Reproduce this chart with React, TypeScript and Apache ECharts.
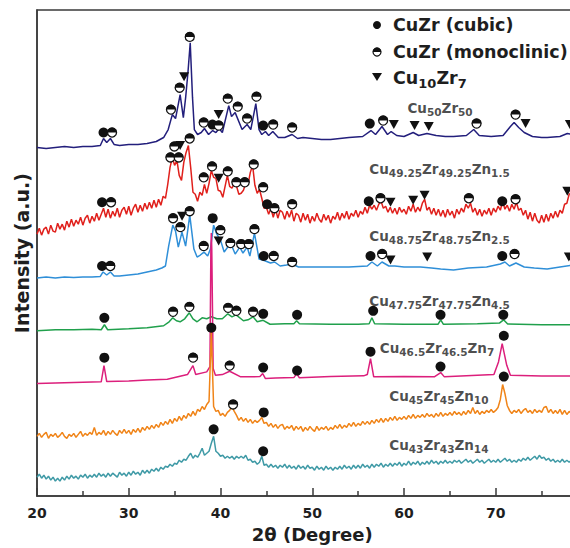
import React, { useEffect, useRef } from 'react';
import * as echarts from 'echarts';

// ---------- axes ----------
const X_MIN = 20;
const X_MAX = 80;
const X_INTERVAL = 10;
const Y_MIN = 0;
const Y_MAX = 488;
const X_NAME = '2θ (Degree)';
const Y_NAME = 'Intensity (a.u.)';

// ---------- patterns read as [2θ, intensity] ----------
const NAVY_PTS = [[20,350],[21,349],[22,350],[23,351],[24,350],[25,351],[26,351],[26.9,352],[27.25,359],[27.6,355],[28.0,359],[28.4,353],[29,352],[30,353],[31,353],[32,354],[33,356],[33.8,360],[34.3,368],[34.75,383],[35.1,379],[35.6,403],[35.95,380],[36.2,400],[36.45,425],[36.7,455],[36.95,400],[37.15,368],[37.5,363],[37.9,365],[38.25,369],[38.7,363],[39.15,367],[39.5,365],[39.85,369],[40.2,365],[40.9,392],[41.2,381],[41.6,385],[42.35,368],[42.9,373],[43.3,368],[43.85,394],[44.2,368],[44.5,363],[44.9,366],[45.25,362],[45.7,366],[46.3,360],[47.0,360],[47.8,363],[48.4,359],[49,360],[50,359],[51,358],[52,358],[53,359],[54,360],[55.5,361],[56.4,367],[56.9,363],[57.6,371],[58.2,363],[58.6,366],[59.2,362],[60,361],[61,365],[61.6,362],[62.5,364],[63.5,362],[64.5,361],[65.4,361],[66.8,362],[67.6,368],[68.2,362],[69.5,361],[70.8,362],[71.6,371],[72.0,375],[72.5,370],[73.1,365],[74,361],[75,360],[75.6,360],[77,361],[77.8,364],[78.5,363]];

const BLUE_PTS = [[20,219],[21,220],[22,219],[23,220],[24,219.5],[25,220],[26,220],[26.9,220.5],[27.2,225],[27.6,222],[28.0,225],[28.4,221],[29,221],[30,222],[31,223],[32,225],[33,227],[33.6,229],[34,231],[34.35,251],[34.8,272],[35.1,266],[35.4,250],[35.8,265],[36.2,251],[36.65,282],[37.1,248],[37.45,240],[37.8,242],[38.2,245],[38.6,241],[38.9,248],[39.25,272],[39.6,263],[40.0,257],[40.4,245],[41.1,254],[41.6,243],[42.1,250],[42.45,244],[42.9,250],[43.2,241],[43.7,264],[44.2,238],[44.6,237],[44.9,236],[45.45,234],[45.9,235],[46.5,231],[47.2,232],[47.8,233],[48.5,230],[50,230],[52,230],[54,230],[55,230.5],[56,231],[56.5,235],[57.1,231],[57.6,235],[58.35,231],[59,231],[60,230],[61.8,230],[63,229],[64,228],[65.4,227],[67,229],[69,230],[70.5,233],[71.0,235],[71.5,231],[72.2,234],[73.1,230],[74.2,229],[75.6,228],[77,230],[78.5,232]];

const GREEN_PTS = [[20,166],[22,167],[24,167],[26,167.5],[27.0,167],[27.35,172],[27.7,167],[30,168],[32,169],[33.8,171],[34.4,175],[34.8,179],[35.2,176],[35.6,175],[36.1,178],[36.6,184],[37.0,178],[37.45,175],[38.0,179],[38.5,178],[39.0,180],[39.6,178],[40.2,178],[40.8,183],[41.25,180],[41.7,182],[42.5,176],[43.0,177],[43.55,180],[44.0,175],[44.65,176.5],[45.4,172.5],[47,173],[48.0,173],[48.3,176],[48.6,173],[52,172.5],[55,172.5],[56.2,173],[56.5,179],[56.8,173],[60,172.5],[63.7,172.5],[64.0,177],[64.3,172.5],[68,173],[70.4,173.7],[70.85,177],[71.3,172.7],[75,172],[78.5,172]];

const PINK_PTS = [[20,113],[22,113.5],[24,114],[26,114.5],[27.0,114.7],[27.3,131],[27.6,115],[30,115.5],[32,116.5],[34.2,117.3],[36.4,122],[37.0,131],[37.3,122],[38.5,124.7],[38.85,130],[38.95,248],[39.0,264],[39.05,248],[39.2,128],[39.45,121.3],[40.2,122],[41.0,125.3],[42.2,119.7],[43.6,119.7],[44.3,120],[44.6,123],[44.9,118],[46,118.5],[48.0,119],[48.3,123],[48.6,118.7],[52,120],[55.6,120.7],[56.0,122],[56.35,138],[56.7,119.7],[60,120],[63.3,119.7],[64.0,124],[64.4,119.7],[69.8,122],[70.3,134.7],[70.7,153],[71.2,131.3],[71.6,121.3],[75,120.5],[78.5,120.7]];

// noisy patterns: intensities every 0.25° starting at 20°, one row per degree
const STEP_START = 20;
const STEP = 0.25;

const RED_ROWS = [
  [263,269,262,268],[270,263,272,266],[265,274,268,273],[267,276,270,278],[271,277,273,280],
  [272,279,282,274],[281,276,284,277],[283,289,280,288],[279,286,281,289],[280,287,290,283],
  [291,282,289,293],[285,292,286,294],[288,295,289,297],[290,298,292,301],[299,313,330,340],
  [332,337,322,317],[335,345,352,330],[305,303,296,305],[302,313,304,314],[327,320,319,307],
  [306,300,311,322],[311,309,314,311],[303,304,307,314],[313,325,332,312],[304,308,299,289],
  [290,283,289,280],[288,279,287,285],[278,286,280,287],[276,284,282,275],[284,277,283,274],
  [281,276,284,278],[275,283,277,282],[274,281,278,285],[277,284,279,286],[278,284,281,287],
  [280,286,283,290],[284,292,288,292],[287,293,296,289],[291,285,290,284],[289,283,290,285],
  [288,283,291,286],[293,285,290,286],[294,298,287,290],[283,289,282,288],[281,287,280,288],
  [282,286,279,288],[283,289,285,293],[289,294,285,289],[282,288,281,287],[283,289,282,289],
  [285,291,287,296],[288,292,286,293],[288,295,287,289],[282,287,278,285],[276,284,277,274],
  [282,275,283,276],[284,279,286,280],[287,284,293,294],[303,304,306]
];

const ORANGE_ROWS = [
  [60,63,59,62],[64,58,62,60],[63,59,61,64],[60,58,62,60],[63,59,62,65],
  [60,63,61,64],[62,69,61,64],[62,66,61,65],[62,66,63,61],[66,63,67,63],
  [66,62,67,64],[68,64,69,66],[70,67,71,68],[72,69,74,71],[75,72,77,73],
  [78,75,80,76],[81,78,83,80],[85,81,87,85],[90,87,92,95],[165,90,85,86],
  [81,83,80,84],[86,90,85,81],[76,79,75,78],[74,77,73,76],[74,76,79,73],
  [74,70,73,69],[72,68,71,72],[67,70,68,71],[66,70,67,70],[65,69,66,70],
  [67,65,70,66],[69,67,70,66],[69,67,71,68],[72,68,71,69],[73,70,74,70],
  [73,71,75,72],[75,72,76,73],[77,74,78,74],[78,75,79,76],[80,76,79,77],
  [80,77,81,78],[82,78,81,79],[82,79,83,80],[82,79,83,80],[84,80,83,81],
  [84,81,85,82],[84,81,85,82],[86,83,89,83],[86,82,85,83],[86,84,87,84],
  [86,89,97,112],[103,91,86,83],[86,84,87,83],[86,88,84,86],[83,87,84,86],
  [84,89,90,84],[87,83,86,83],[87,82,86,82],[85,83,86]
];

const TEAL_ROWS = [
  [19,22,18,21],[17,20,16,19],[15,18,15,19],[16,20,17,21],[18,20,17,21],
  [19,22,18,21],[19,22,19,23],[20,22,19,23],[20,23,21,19],[24,21,23,20],
  [24,21,25,22],[24,21,26,23],[26,23,27,25],[28,25,29,27],[30,29,32,30],
  [33,32,36,34],[37,36,40,43],[38,41,39,43],[48,41,43,45],[53,60,45,43],
  [40,41,38,40],[38,40,37,40],[38,40,38,41],[36,37,34,35],[32,34,40,31],
  [32,29,32,29],[31,28,31,29],[32,28,31,28],[30,27,31,28],[30,27,31,28],
  [29,26,30,27],[29,26,30,27],[29,26,29,27],[30,27,31,28],[30,27,31,28],
  [31,28,32,29],[31,28,32,29],[32,30,33,29],[32,30,33,30],[33,31,34,30],
  [33,31,35,31],[34,32,35,31],[34,32,35,32],[36,33,35,32],[35,33,36,33],
  [35,33,36,34],[36,33,35,37],[34,36,33,35],[37,34,36,33],[35,37,34,36],
  [34,37,34,36],[38,35,37,34],[36,34,37,35],[38,36,39,36],[38,40,37,41],
  [38,39,36,38],[35,37,34,36],[34,37,34,36],[34,36,35]
];

// ---------- phase markers [2θ, intensity] ----------
const CUBIC_PTS = [
  [27.25,365],[39.12,373],[44.65,372],[56.27,374],
  [27.09,295],[45.08,293],[56.16,296],[70.71,296],
  [27.09,231],[39.15,279],[44.71,241],[56.35,241],[70.71,241],
  [27.34,179],[44.65,183],[48.35,182],[56.64,186],[63.98,182],[70.82,182],
  [27.34,139],[44.65,129],[48.35,126],[56.35,145],[63.98,130],[70.88,161],
  [39.0,169],[44.71,84],[70.88,120],
  [39.25,67],[44.65,45]
];

const MONO_PTS = [
  [28.18,365],[34.6,388],[35.55,410],[36.65,461],[38.17,375],[39.8,372],[40.79,399],[41.88,391],[42.9,379],[43.92,401],[45.74,373],[47.81,370],[57.73,377],[67.91,374],[72.16,383],
  [28.07,295],[34.54,340],[35.44,340],[34.97,351],[36.64,359],[38.17,320],[39.08,331],[40.79,326],[41.73,315],[42.64,315],[43.62,333],[44.65,310],[45.88,289],[47.81,293],[57.44,299],[67.07,299],[72.16,298],
  [27.99,231],[34.83,279],[35.63,270],[36.64,286],[38.17,251],[39.99,267],[41.08,254],[42.25,253],[43.08,253],[43.7,268],[45.8,241],[47.81,235],[57.62,243],[72.05,243],
  [34.83,185],[36.61,190],[40.83,189],[41.73,186],[43.55,185],
  [37.01,139],[41.0,131],
  [41.37,92]
];

const CU10ZR7_PTS = [
  [36.03,421],[39.8,383],[58.89,373],[61.15,372],[62.7,371],[73.25,374],[78.08,373],
  [35.6,352],[39.8,319],[58.53,295],[61.0,297],[62.24,302],[77.8,306],
  [35.81,281],[39.8,256],[58.53,237],[62.53,240],[77.97,240]
];

// ---------- sample names (rich text) and their anchors [2θ, intensity] ----------
const SAMPLE_NAMES = [
  '{b|Cu}{s|50}{b|Zr}{s|50}',
  '{b|Cu}{s|49.25}{b|Zr}{s|49.25}{b|Zn}{s|1.5}',
  '{b|Cu}{s|48.75}{b|Zr}{s|48.75}{b|Zn}{s|2.5}',
  '{b|Cu}{s|47.75}{b|Zr}{s|47.75}{b|Zn}{s|4.5}',
  '{b|Cu}{s|46.5}{b|Zr}{s|46.5}{b|Zn}{s|7}',
  '{b|Cu}{s|45}{b|Zr}{s|45}{b|Zn}{s|10}',
  '{b|Cu}{s|43}{b|Zr}{s|43}{b|Zn}{s|14}'
];
const SAMPLE_NAME_POS = [[63.93,390],[63.87,328],[63.87,261],[63.87,196],[63.6,149],[63.8,100],[63.8,51]];

const LEGEND_TEXTS = ['CuZr (cubic)', 'CuZr (monoclinic)', '{b|Cu}{s|10}{b|Zr}{s|7}'];

// ---------- styling ----------
const FONT = 'DejaVu Sans';
const AXIS_COLOR = '#3a3a3a';
const TEXT_COLOR = '#1e1e1e';
const MARK_COLOR = '#111111';
const COLORS = ['#231f7c', '#e0201c', '#2f8fd8', '#20a04c', '#dc1f7c', '#f08418', '#3f9aa6'];

const fromRows = (rows: number[][]) =>
  rows.flat().map((v, i) => [STEP_START + i * STEP, v]);

const lineSeries = (data: number[][], color: string) => ({
  type: 'line',
  data,
  symbol: 'none',
  showSymbol: false,
  smooth: false,
  silent: true,
  lineStyle: { color, width: 1.5 },
  z: 2,
});

export default function App() {
  const ref = useRef<HTMLDivElement>(null);

  useEffect(() => {
    if (!ref.current) return;
    const chart = echarts.init(ref.current, null, { renderer: 'svg' });

    const labelRich = {
      b: { fontFamily: FONT, fontWeight: 'bold', fontSize: 13.5, color: TEXT_COLOR, lineHeight: 14, verticalAlign: 'top' },
      s: { fontFamily: FONT, fontWeight: 'bold', fontSize: 10.5, color: TEXT_COLOR, lineHeight: 22, verticalAlign: 'middle' },
    };
    const legendRich = {
      b: { fontFamily: FONT, fontWeight: 'bold', fontSize: 17.5, fill: TEXT_COLOR, lineHeight: 18, verticalAlign: 'top' },
      s: { fontFamily: FONT, fontWeight: 'bold', fontSize: 13, fill: TEXT_COLOR, lineHeight: 28, verticalAlign: 'middle' },
    };

    const option: any = {
      animation: false,
      backgroundColor: '#ffffff',
      grid: {
        left: 37, top: 10, width: 550.5, height: 488,
        show: true, borderColor: AXIS_COLOR, borderWidth: 1.5, backgroundColor: 'transparent',
      },
      xAxis: {
        type: 'value', min: X_MIN, max: X_MAX, interval: X_INTERVAL,
        axisLine: { show: true, lineStyle: { color: AXIS_COLOR, width: 1.5 } },
        axisTick: { show: true, inside: true, length: 8, lineStyle: { color: AXIS_COLOR, width: 1.5 } },
        minorTick: { show: true, splitNumber: 2, length: 5, lineStyle: { color: AXIS_COLOR, width: 1.5 } },
        splitLine: { show: false },
        axisLabel: { margin: 10, showMaxLabel: false, fontFamily: FONT, fontWeight: 'bold', fontSize: 14, color: TEXT_COLOR },
        name: X_NAME, nameLocation: 'middle', nameGap: 25,
        nameTextStyle: { fontFamily: FONT, fontWeight: 'bold', fontSize: 18, color: TEXT_COLOR },
      },
      yAxis: {
        type: 'value', min: Y_MIN, max: Y_MAX,
        axisLine: { show: true, lineStyle: { color: AXIS_COLOR, width: 1.5 } },
        axisTick: { show: false }, axisLabel: { show: false }, splitLine: { show: false },
        name: Y_NAME, nameLocation: 'middle', nameGap: 6,
        nameTextStyle: { fontFamily: FONT, fontWeight: 'bold', fontSize: 19, color: TEXT_COLOR },
      },
      series: [
        lineSeries(NAVY_PTS, COLORS[0]),
        lineSeries(fromRows(RED_ROWS), COLORS[1]),
        lineSeries(BLUE_PTS, COLORS[2]),
        lineSeries(GREEN_PTS, COLORS[3]),
        lineSeries(PINK_PTS, COLORS[4]),
        lineSeries(fromRows(ORANGE_ROWS), COLORS[5]),
        lineSeries(fromRows(TEAL_ROWS), COLORS[6]),
        {
          type: 'scatter', data: CUBIC_PTS, symbol: 'circle', symbolSize: 10,
          itemStyle: { color: MARK_COLOR, opacity: 1 }, silent: true, z: 5,
        },
        {
          type: 'scatter', data: MONO_PTS, symbol: 'circle', symbolSize: 9,
          itemStyle: { color: '#ffffff', borderColor: MARK_COLOR, borderWidth: 1.3, opacity: 1 }, silent: true, z: 5,
        },
        {
          type: 'scatter', data: MONO_PTS, symbol: 'path://M0,10A10,10,0,0,1,20,10Z',
          symbolSize: [9.6, 4.8], symbolOffset: [0, -2.4],
          itemStyle: { color: MARK_COLOR, opacity: 1 }, silent: true, z: 6,
        },
        {
          type: 'scatter', data: CU10ZR7_PTS, symbol: 'triangle', symbolRotate: 180, symbolSize: [10, 9],
          itemStyle: { color: MARK_COLOR, opacity: 1 }, silent: true, z: 5,
        },
        {
          type: 'scatter',
          data: SAMPLE_NAMES.map((n, i) => ({ value: SAMPLE_NAME_POS[i], name: n })),
          symbol: 'circle', symbolSize: 1, itemStyle: { color: 'rgba(0,0,0,0)' }, silent: true, z: 7,
          label: {
            show: true, position: 'inside', offset: [0, 4],
            fontFamily: FONT, fontWeight: 'bold', color: TEXT_COLOR,
            formatter: (p: any) => p.name, rich: labelRich,
          },
        },
      ],
      graphic: [
        { type: 'circle', shape: { cx: 377, cy: 25, r: 4 }, style: { fill: MARK_COLOR }, z: 10 },
        { type: 'circle', shape: { cx: 377, cy: 52, r: 4 }, style: { fill: '#ffffff', stroke: MARK_COLOR, lineWidth: 1.2 }, z: 10 },
        { type: 'sector', shape: { cx: 377, cy: 52, r: 4.2, r0: 0, startAngle: Math.PI, endAngle: Math.PI * 2 }, style: { fill: MARK_COLOR }, z: 11 },
        { type: 'polygon', shape: { points: [[372, 73], [382, 73], [377, 81]] }, style: { fill: MARK_COLOR }, z: 10 },
        { type: 'text', x: 393, y: 25, z: 10, style: { text: LEGEND_TEXTS[0], fontFamily: FONT, fontWeight: 'bold', fontSize: 17.5, fill: TEXT_COLOR, verticalAlign: 'middle' } },
        { type: 'text', x: 393, y: 52, z: 10, style: { text: LEGEND_TEXTS[1], fontFamily: FONT, fontWeight: 'bold', fontSize: 17.5, fill: TEXT_COLOR, verticalAlign: 'middle' } },
        { type: 'text', x: 393, y: 83, z: 10, style: { text: LEGEND_TEXTS[2], rich: legendRich, fill: TEXT_COLOR, verticalAlign: 'middle' } },
      ],
    };

    chart.setOption(option);
    return () => chart.dispose();
  }, []);

  return (
    <div style={{ position: 'fixed', left: 0, top: 0, width: 570, height: 548, overflow: 'hidden', background: '#fff' }}>
      <div ref={ref} style={{ width: 600, height: 548 }} />
    </div>
  );
}
